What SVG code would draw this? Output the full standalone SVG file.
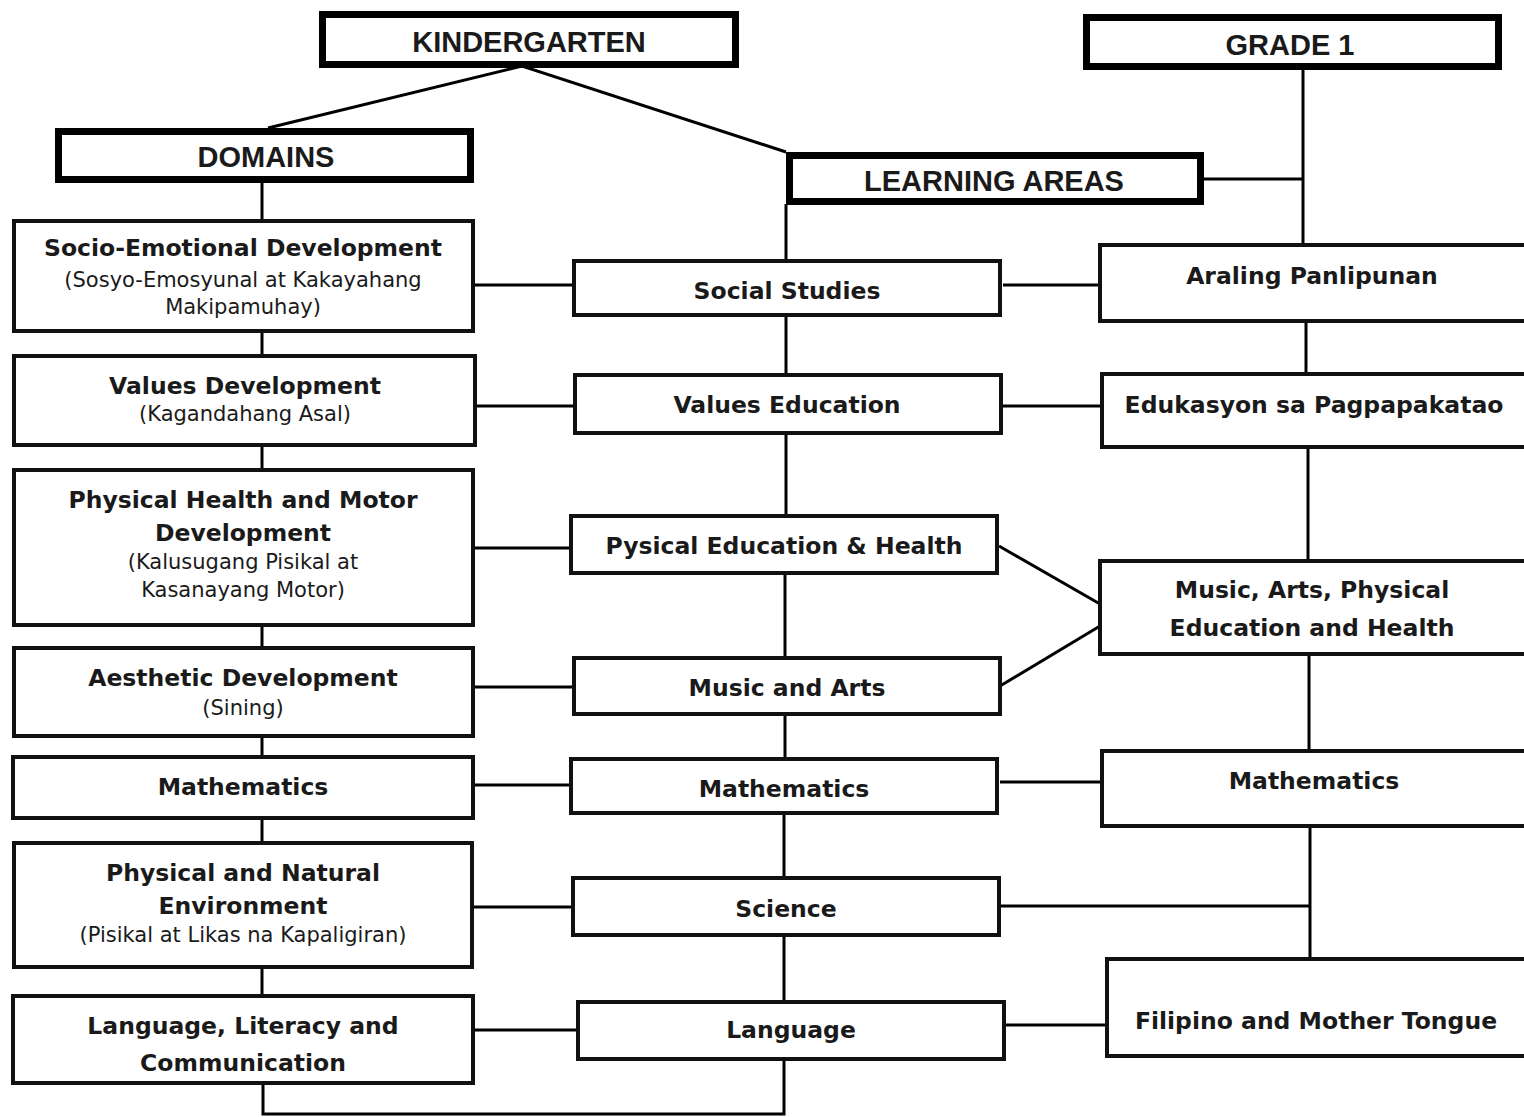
<svg xmlns="http://www.w3.org/2000/svg" width="1524" height="1117" viewBox="0 0 1524 1117">
<style>
.hdr{fill:#fff;stroke:#000;stroke-width:7}
.box{fill:#fff;stroke:#111;stroke-width:4}
.ln{fill:none;stroke:#000;stroke-width:3}
.ht{font-family:"Liberation Sans",Arial,sans-serif;font-weight:bold;font-size:29px;fill:#1a1a1a;text-anchor:middle}
.b{font-family:"DejaVu Sans",Verdana,sans-serif;font-weight:bold;font-size:23.5px;fill:#1a1a1a;text-anchor:middle}
.n{font-family:"DejaVu Sans",Verdana,sans-serif;font-size:21px;fill:#1a1a1a;text-anchor:middle}
</style>
<rect width="1524" height="1117" fill="#fff"/>
<g id="connectors">
<polyline class="ln" points="268,128 522,66 786,152"/>
<line class="ln" x1="262" y1="182" x2="262" y2="220"/>
<line class="ln" x1="786" y1="204" x2="786" y2="261"/>
<line class="ln" x1="1303" y1="69" x2="1303" y2="244"/>
<line class="ln" x1="1203" y1="179" x2="1303" y2="179"/>
<line class="ln" x1="262" y1="332" x2="262" y2="355"/>
<line class="ln" x1="262" y1="446" x2="262" y2="469"/>
<line class="ln" x1="262" y1="626" x2="262" y2="647"/>
<line class="ln" x1="262" y1="737" x2="262" y2="756"/>
<line class="ln" x1="262" y1="819" x2="262" y2="842"/>
<line class="ln" x1="262" y1="968" x2="262" y2="995"/>
<polyline class="ln" points="263,1084 263,1114 784,1114 784,1059"/>
<line class="ln" x1="786" y1="315" x2="786" y2="374"/>
<line class="ln" x1="786" y1="433" x2="786" y2="515"/>
<line class="ln" x1="785" y1="573" x2="785" y2="657"/>
<line class="ln" x1="785" y1="714" x2="785" y2="758"/>
<line class="ln" x1="784" y1="813" x2="784" y2="877"/>
<line class="ln" x1="784" y1="935" x2="784" y2="1001"/>
<line class="ln" x1="1306" y1="322" x2="1306" y2="373"/>
<line class="ln" x1="1308" y1="448" x2="1308" y2="560"/>
<line class="ln" x1="1309" y1="655" x2="1309" y2="750"/>
<line class="ln" x1="1310" y1="827" x2="1310" y2="958"/>
<line class="ln" x1="474" y1="285" x2="573" y2="285"/>
<line class="ln" x1="1003" y1="285" x2="1099" y2="285"/>
<line class="ln" x1="476" y1="406" x2="578" y2="406"/>
<line class="ln" x1="1003" y1="406" x2="1101" y2="406"/>
<line class="ln" x1="470" y1="548" x2="570" y2="548"/>
<line class="ln" x1="999" y1="546" x2="1100" y2="604"/>
<line class="ln" x1="1000" y1="686" x2="1100" y2="626"/>
<line class="ln" x1="474" y1="687" x2="573" y2="687"/>
<line class="ln" x1="474" y1="785" x2="570" y2="785"/>
<line class="ln" x1="1000" y1="782" x2="1101" y2="782"/>
<line class="ln" x1="470" y1="907" x2="572" y2="907"/>
<line class="ln" x1="999" y1="906" x2="1310" y2="906"/>
<line class="ln" x1="474" y1="1030" x2="577" y2="1030"/>
<line class="ln" x1="1004" y1="1025" x2="1106" y2="1025"/>
</g>
<g id="kindergarten"><rect class="hdr" x="322.5" y="14.5" width="413" height="50"/><text class="ht" x="529" y="52">KINDERGARTEN</text></g>
<g id="grade1"><rect class="hdr" x="1086.5" y="17.5" width="412" height="49"/><text class="ht" x="1290" y="55">GRADE 1</text></g>
<g id="domains"><rect class="hdr" x="58.5" y="131.5" width="412" height="48"/><text class="ht" x="266" y="167">DOMAINS</text></g>
<g id="learning-areas"><rect class="hdr" x="789.5" y="155.5" width="411" height="46"/><text class="ht" x="994" y="191">LEARNING AREAS</text></g>

<g id="socio"><rect class="box" x="14" y="221" width="459" height="110"/><text class="b" x="243" y="256">Socio-Emotional Development</text><text class="n" x="243" y="287">(Sosyo-Emosyunal at Kakayahang</text><text class="n" x="243" y="314">Makipamuhay)</text></g>
<g id="values-dev"><rect class="box" x="14" y="356" width="461" height="89"/><text class="b" x="245" y="394">Values Development</text><text class="n" x="245" y="421">(Kagandahang Asal)</text></g>
<g id="physical-health"><rect class="box" x="14" y="470" width="459" height="155"/><text class="b" x="243" y="508">Physical Health and Motor</text><text class="b" x="243" y="541">Development</text><text class="n" x="243" y="569">(Kalusugang Pisikal at</text><text class="n" x="243" y="597">Kasanayang Motor)</text></g>
<g id="aesthetic"><rect class="box" x="14" y="648" width="459" height="88"/><text class="b" x="243" y="686">Aesthetic Development</text><text class="n" x="243" y="715">(Sining)</text></g>
<g id="math-dom"><rect class="box" x="13" y="757" width="460" height="61"/><text class="b" x="243" y="795">Mathematics</text></g>
<g id="phys-natural"><rect class="box" x="14" y="843" width="458" height="124"/><text class="b" x="243" y="881">Physical and Natural</text><text class="b" x="243" y="914">Environment</text><text class="n" x="243" y="942">(Pisikal at Likas na Kapaligiran)</text></g>
<g id="language-lit"><rect class="box" x="13" y="996" width="460" height="87"/><text class="b" x="243" y="1034">Language, Literacy and</text><text class="b" x="243" y="1071">Communication</text></g>

<g id="social-studies"><rect class="box" x="574" y="261" width="426" height="54"/><text class="b" x="787" y="299">Social Studies</text></g>
<g id="values-ed"><rect class="box" x="575" y="375" width="426" height="58"/><text class="b" x="787" y="413">Values Education</text></g>
<g id="pe-health"><rect class="box" x="571" y="516" width="426" height="57"/><text class="b" x="784" y="554">Pysical Education &amp; Health</text></g>
<g id="music-arts"><rect class="box" x="574" y="658" width="426" height="56"/><text class="b" x="787" y="696">Music and Arts</text></g>
<g id="math-la"><rect class="box" x="571" y="759" width="426" height="54"/><text class="b" x="784" y="797">Mathematics</text></g>
<g id="science"><rect class="box" x="573" y="878" width="426" height="57"/><text class="b" x="786" y="917">Science</text></g>
<g id="language"><rect class="box" x="578" y="1002" width="426" height="57"/><text class="b" x="791" y="1038">Language</text></g>

<g id="araling"><rect class="box" x="1100" y="245" width="430" height="76"/><text class="b" x="1312" y="284">Araling Panlipunan</text></g>
<g id="edukasyon"><rect class="box" x="1102" y="374" width="430" height="73"/><text class="b" x="1314" y="413">Edukasyon sa Pagpapakatao</text></g>
<g id="mapeh"><rect class="box" x="1100" y="561" width="430" height="93"/><text class="b" x="1312" y="598">Music, Arts, Physical</text><text class="b" x="1312" y="636">Education and Health</text></g>
<g id="math-g1"><rect class="box" x="1102" y="751" width="430" height="75"/><text class="b" x="1314" y="789">Mathematics</text></g>
<g id="filipino"><rect class="box" x="1107" y="959" width="425" height="97"/><text class="b" x="1316" y="1029">Filipino and Mother Tongue</text></g>
</svg>
